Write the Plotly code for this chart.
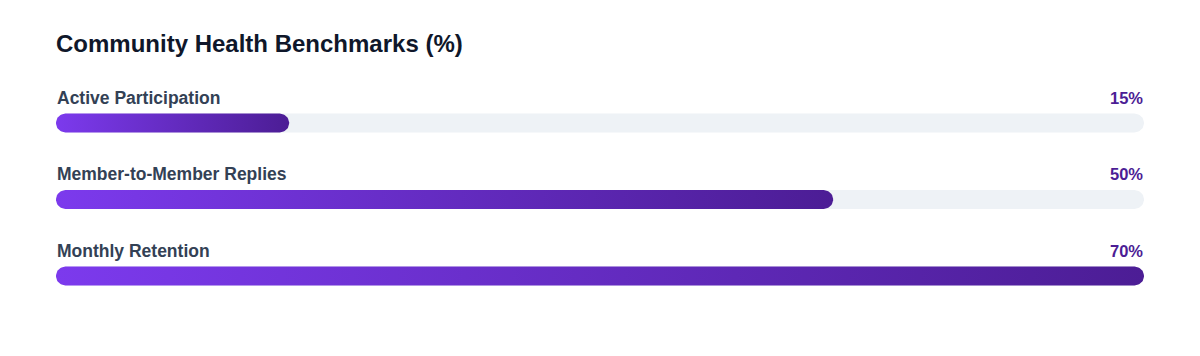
import numpy as np
import plotly.graph_objects as go

categories = ["Active Participation", "Member-to-Member Replies", "Monthly Retention"]
values = [15, 50, 70]
value_labels = ["15%", "50%", "70%"]
scale_max = 70

W, H = 1200, 356
ML, MR = 56, 56
PX_PER_X = (W - ML - MR) / scale_max
ROW_PX = 76.5
Y0_PX = 123
BAR_R_PX = 9.4

rx = BAR_R_PX / PX_PER_X
ry = BAR_R_PX / ROW_PX

FONT = "Liberation Sans, Arial, Helvetica, sans-serif"


def capsule(x0, x1, yc):
    xs, ys = [], []
    t = np.linspace(-np.pi / 2, np.pi / 2, 24)
    cx = x1 - rx
    xs += list(cx + rx * np.cos(t))
    ys += list(yc + ry * np.sin(t))
    t2 = np.linspace(np.pi / 2, 3 * np.pi / 2, 24)
    cx = x0 + rx
    xs += list(cx + rx * np.cos(t2))
    ys += list(yc + ry * np.sin(t2))
    xs.append(xs[0]); ys.append(ys[0])
    return xs, ys


fig = go.Figure()
for i, (cat, v) in enumerate(zip(categories, values)):
    tx, ty = capsule(0, scale_max, i)
    fig.add_trace(go.Scatter(x=tx, y=ty, fill="toself", mode="lines",
                             fillcolor="#eef2f6",
                             line=dict(width=0, color="rgba(0,0,0,0)"),
                             hoverinfo="skip", showlegend=False))
    bx, by = capsule(0, v, i)
    fig.add_trace(go.Scatter(x=bx, y=by, fill="toself", mode="lines",
                             fillgradient=dict(type="horizontal",
                                               colorscale=[[0, "#7c3aed"], [1, "#4c1d95"]]),
                             line=dict(width=0, color="rgba(0,0,0,0)"),
                             name=cat, hoverinfo="name", showlegend=False))

label_off = 25.5 / ROW_PX
annotations = []
for i, (cat, lab) in enumerate(zip(categories, value_labels)):
    annotations.append(dict(x=0, y=i - label_off, xref="x", yref="y", text=f"<b>{cat}</b>",
                            showarrow=False, xanchor="left", yanchor="middle", xshift=-1.5,
                            font=dict(family=FONT, size=17.5, color="#334155")))
    annotations.append(dict(x=scale_max, y=i - label_off, xref="x", yref="y", text=f"<b>{lab}</b>",
                            showarrow=False, xanchor="right", yanchor="middle", xshift=1,
                            font=dict(family=FONT, size=16.5, color="#4c1d95")))

y_top = -Y0_PX / ROW_PX
y_bot = (H - Y0_PX) / ROW_PX

fig.update_layout(
    width=W, height=H,
    margin=dict(l=ML, r=MR, t=0, b=0, pad=0),
    paper_bgcolor="white", plot_bgcolor="white",
    title=dict(text="<b>Community Health Benchmarks (%)</b>", xref="container", yref="container",
               x=ML / W, y=1 - 44 / H, xanchor="left", yanchor="middle",
               font=dict(family=FONT, size=24, color="#0f172a")),
    xaxis=dict(range=[0, scale_max], visible=False, fixedrange=True),
    yaxis=dict(range=[y_bot, y_top], visible=False, fixedrange=True),
    annotations=annotations,
)

fig.write_html("out.html", config={"displayModeBar": False})
